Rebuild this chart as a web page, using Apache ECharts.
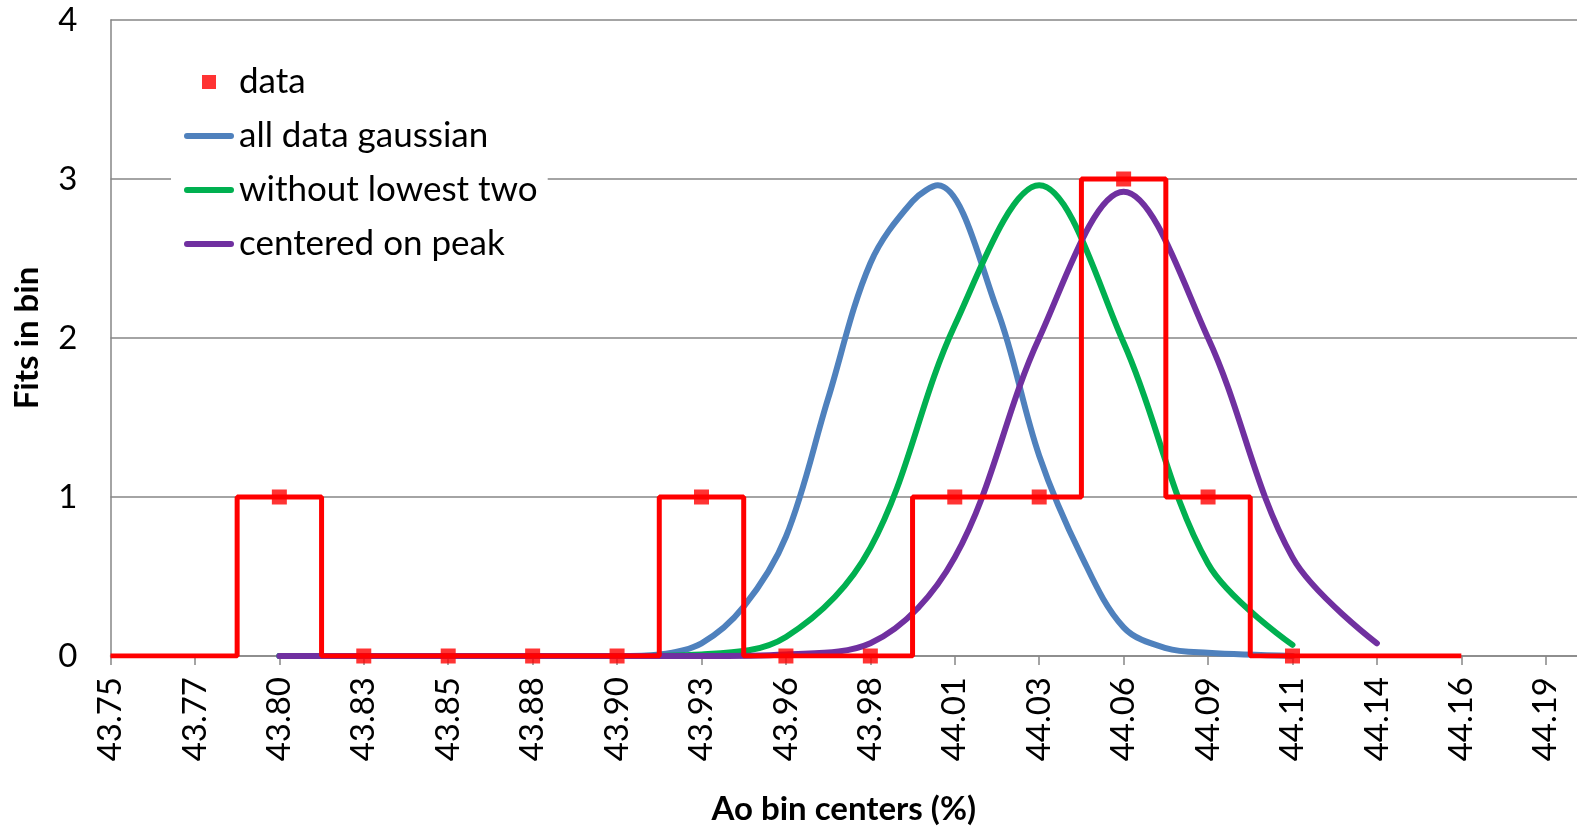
<!DOCTYPE html>
<html>
<head>
<meta charset="utf-8">
<script src="https://cdn.jsdelivr.net/npm/echarts@6/dist/echarts.min.js"></script>
<style>
html,body{margin:0;padding:0;background:#fff;}
#chart{width:1577px;height:830px;}
</style>
</head>
<body>
<div id="chart"></div>
<script>
// Tick labels (bin centers, %), one per axis tick
var xLabels = ['43.75','43.77','43.80','43.83','43.85','43.88','43.90','43.93','43.96','43.98','44.01','44.03','44.06','44.09','44.11','44.14','44.16','44.19'];
var yTicks = [0, 1, 2, 3, 4];

// "data" markers: bins 43.80 .. 44.11
var dataStart = 2;
var dataCounts = [1, 0, 0, 0, 0, 1, 0, 0, 1, 1, 3, 1, 0];

// histogram step outline: bins 43.75 .. 44.16
var stepStart = 0;
var stepCounts = [0, 0, 1, 0, 0, 0, 0, 1, 0, 0, 1, 1, 3, 1, 0, 0, 0];

// gaussian curves, positions in bin-index units (0 = 43.75 tick)
var allDataX  = [2, 3, 4, 5, 6, 6.5, 7, 7.5, 8, 8.5, 9, 9.5, 9.8, 10.5, 11, 11.5, 12, 12.5, 13, 14];
var allDataY  = [0, 0, 0, 0, 0, 0.01, 0.08, 0.31, 0.75, 1.62, 2.47, 2.86, 2.96, 2.18, 1.26, 0.63, 0.18, 0.05, 0.02, 0];

var withoutLowestTwoX = [2, 3, 4, 5, 6, 7, 8, 9, 10, 11, 12, 13, 14];
var withoutLowestTwoY = [0, 0, 0, 0, 0, 0.01, 0.12, 0.68, 2.08, 2.96, 1.97, 0.58, 0.07];

var centeredOnPeakX = [2, 3, 4, 5, 6, 7, 8, 9, 10, 11, 12, 13, 14, 15];
var centeredOnPeakY = [0, 0, 0, 0, 0, 0, 0.01, 0.08, 0.62, 2.00, 2.92, 2.00, 0.62, 0.08];

function zipXY(xs, ys) {
  return xs.map(function (x, i) { return [x, ys[i]]; });
}
function pairs(start, arr) {
  return arr.map(function (v, i) { return [start + i, v]; });
}

var FONT = 'Lato';
var chart = echarts.init(document.getElementById('chart'), null, {renderer: 'canvas'});
var tickIdx = xLabels.map(function (_, i) { return i; });
var LINE_ICON = 'path://M3,0L47,0A3,3,0,0,1,47,6L3,6A3,3,0,0,1,3,0Z';

var option = {
  backgroundColor: '#ffffff',
  animation: false,
  textStyle: {fontFamily: FONT},
  grid: {left: 110.5, right: 0, top: 20, bottom: 174, containLabel: false, outerBoundsMode: 'none'},
  legend: {
    orient: 'vertical',
    left: 171,
    top: 52,
    padding: [10, 10, 10, 13],
    backgroundColor: '#ffffff',
    itemWidth: 50,
    itemHeight: 14,
    itemGap: 14,
    symbolKeepAspect: true,
    textStyle: {fontFamily: FONT, fontSize: 35, color: '#000', lineHeight: 40},
    data: [
      {name: 'data', icon: 'path://M0,0L10,0L10,10L0,10Z', itemStyle: {color: '#ff0000'}},
      {name: 'all data gaussian', icon: LINE_ICON},
      {name: 'without lowest two', icon: LINE_ICON},
      {name: 'centered on peak', icon: LINE_ICON}
    ]
  },
  xAxis: {
    type: 'value',
    min: 0,
    max: 17.37,
    interval: 1,
    name: 'Ao bin centers (%)',
    nameLocation: 'middle',
    nameGap: 137,
    nameTextStyle: {fontFamily: FONT, fontSize: 33, fontWeight: 'bold', color: '#000'},
    axisLine: {show: true, lineStyle: {color: '#868686', width: 1.5}},
    axisTick: {show: true, inside: false, length: 9, customValues: tickIdx, lineStyle: {color: '#868686', width: 1.5}},
    axisLabel: {
      customValues: tickIdx,
      rotate: 90,
      margin: 21,
      fontFamily: FONT,
      fontSize: 33,
      color: '#000',
      formatter: function (v) { return xLabels[Math.round(v)] || ''; }
    },
    splitLine: {show: false}
  },
  yAxis: {
    type: 'value',
    min: 0,
    max: 4,
    interval: 1,
    name: 'Fits in bin',
    nameLocation: 'middle',
    nameGap: 67,
    nameTextStyle: {fontFamily: FONT, fontSize: 33, fontWeight: 'bold', color: '#000'},
    axisLine: {show: true, lineStyle: {color: '#868686', width: 1.5}},
    axisTick: {show: false},
    axisLabel: {
      margin: 33,
      fontFamily: FONT,
      fontSize: 33,
      color: '#000',
      formatter: function (v) { return yTicks.indexOf(v) >= 0 ? String(v) : ''; }
    },
    splitLine: {show: true, lineStyle: {color: '#868686', width: 1.5}}
  },
  series: [
    {
      name: 'all data gaussian',
      type: 'line',
      data: zipXY(allDataX, allDataY),
      smooth: 0.35,
      symbol: 'none',
      lineStyle: {color: '#4f81bd', width: 6, cap: 'round', join: 'round'},
      itemStyle: {color: '#4f81bd'},
      z: 2
    },
    {
      name: 'without lowest two',
      type: 'line',
      data: zipXY(withoutLowestTwoX, withoutLowestTwoY),
      smooth: 0.35,
      symbol: 'none',
      lineStyle: {color: '#00b050', width: 6, cap: 'round', join: 'round'},
      itemStyle: {color: '#00b050'},
      z: 3
    },
    {
      name: 'centered on peak',
      type: 'line',
      data: zipXY(centeredOnPeakX, centeredOnPeakY),
      smooth: 0.35,
      symbol: 'none',
      lineStyle: {color: '#7030a0', width: 6, cap: 'round', join: 'round'},
      itemStyle: {color: '#7030a0'},
      z: 4
    },
    {
      name: 'histogram',
      type: 'line',
      data: pairs(stepStart, stepCounts),
      step: 'middle',
      symbol: 'none',
      lineStyle: {color: '#ff0000', width: 5},
      itemStyle: {color: '#ff0000'},
      z: 5
    },
    {
      name: 'data',
      type: 'scatter',
      data: pairs(dataStart, dataCounts),
      symbol: 'rect',
      symbolSize: 15,
      itemStyle: {color: '#ff0000'},
      z: 6
    }
  ]
};
chart.setOption(option);
</script>
</body>
</html>
